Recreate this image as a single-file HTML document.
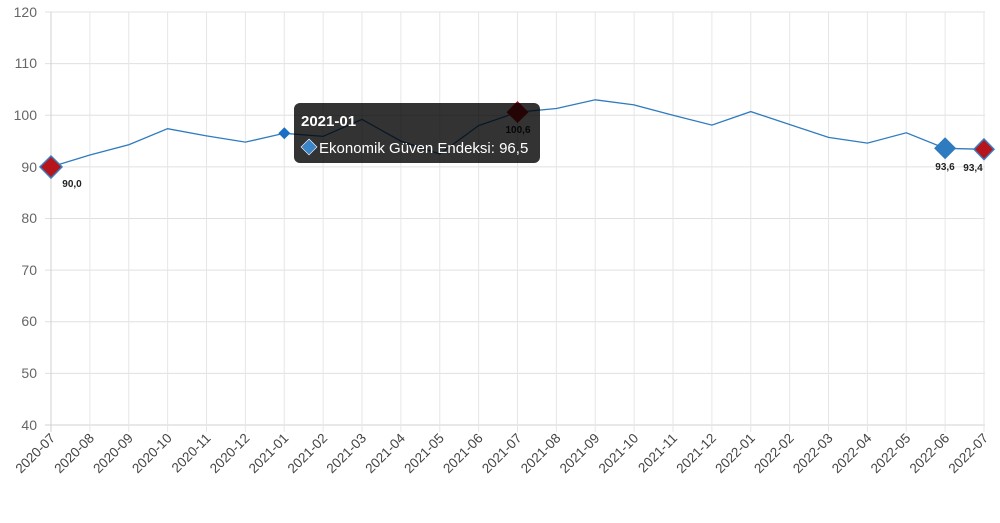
<!DOCTYPE html>
<html><head><meta charset="utf-8"><style>
html,body{margin:0;padding:0;background:#fff;width:1000px;height:523px;overflow:hidden}
svg{display:block;font-family:"Liberation Sans",sans-serif}
</style></head><body>
<svg width="1000" height="523" viewBox="0 0 1000 523">
<g stroke="#e0e0e0" stroke-width="1">
<line x1="45" y1="12" x2="985" y2="12"/>
<line x1="45" y1="63.6" x2="985" y2="63.6"/>
<line x1="45" y1="115.3" x2="985" y2="115.3"/>
<line x1="45" y1="166.9" x2="985" y2="166.9"/>
<line x1="45" y1="218.5" x2="985" y2="218.5"/>
<line x1="45" y1="270.1" x2="985" y2="270.1"/>
<line x1="45" y1="321.8" x2="985" y2="321.8"/>
<line x1="45" y1="373.4" x2="985" y2="373.4"/>
<line x1="45" y1="425" x2="985" y2="425" stroke="#d0d0d0"/>
</g>
<g stroke="#e6e6e6" stroke-width="1" id="vg"></g>
<g font-size="14" fill="#666" text-anchor="end">
<text x="37" y="17">120</text><text x="37" y="68">110</text><text x="37" y="120">100</text>
<text x="37" y="172">90</text><text x="37" y="223">80</text><text x="37" y="275">70</text>
<text x="37" y="326">60</text><text x="37" y="378">50</text><text x="37" y="430">40</text>
</g>
<g id="xl" font-size="13.5" fill="#444" text-anchor="end"></g>
<polyline fill="none" stroke="#2f7bbf" stroke-width="1.3" points="51,166.9 89.9,155 128.8,144.7 167.6,128.7 206.5,135.9 245.4,142.1 284.3,133.3 323.1,136.4 362,119.4 400.9,141.1 439.8,154 478.6,125.6 517.5,112.2 556.4,108.5 595.3,99.8 634.1,104.9 673,115.3 711.9,125.1 750.8,111.6 789.6,124.5 828.5,137.4 867.4,143.1 906.3,132.8 945.1,148.3 984,149.3"/>
<polygon points="51,156 62,166.9 51,178 40,166.9" fill="#b5151b" stroke="#3a7bc0" stroke-width="1.5"/>
<polygon points="284.3,127.3 290.3,133.3 284.3,139.3 278.3,133.3" fill="#1a6fc2"/>
<polygon points="945.1,137.3 956.1,148.3 945.1,159.3 934.1,148.3" fill="#2f7bbf"/>
<polygon points="984,139 994,149.3 984,159.6 974,149.3" fill="#b5151b" stroke="#3a7bc0" stroke-width="1.5"/>
<g font-size="10" font-weight="bold" fill="#222" text-anchor="middle">
<text x="72" y="187">90,0</text>
<text x="945" y="170">93,6</text>
<text x="973" y="171">93,4</text>
</g>
<polygon points="517.5,101 528.5,112.2 517.5,123 506.5,112.2" fill="#b5151b"/>
<text x="518" y="133" font-size="10" font-weight="bold" fill="#222" text-anchor="middle">100,6</text>
<rect x="294" y="103" width="246" height="60" rx="6" fill="rgba(0,0,0,0.8)"/>
<text x="301" y="126" font-size="15" font-weight="bold" fill="#fff">2021-01</text>
<polygon points="309,139 317,147 309,155 301,147" fill="#3a84c8" stroke="#fff" stroke-width="0.6"/>
<text x="319" y="153" font-size="15" fill="#fff">Ekonomik Güven Endeksi: 96,5</text>
</svg>
<script>
var vg=document.getElementById('vg'),xl=document.getElementById('xl');
var ns='http://www.w3.org/2000/svg';
for(var i=0;i<25;i++){
 var x=51+i*38.875;
 var l=document.createElementNS(ns,'line');
 l.setAttribute('x1',x);l.setAttribute('x2',x);l.setAttribute('y1',12);l.setAttribute('y2',432);
 if(i==0)l.setAttribute('stroke','#d0d0d0');
 vg.appendChild(l);
 var m=7+i,y=2020+Math.floor((m-1)/12);m=((m-1)%12)+1;
 var t=document.createElementNS(ns,'text');
 t.setAttribute('transform','translate('+(x+5)+',439) rotate(-45)');
 t.textContent=y+'-'+(m<10?'0':'')+m;
 xl.appendChild(t);
}
</script>
</body></html>
